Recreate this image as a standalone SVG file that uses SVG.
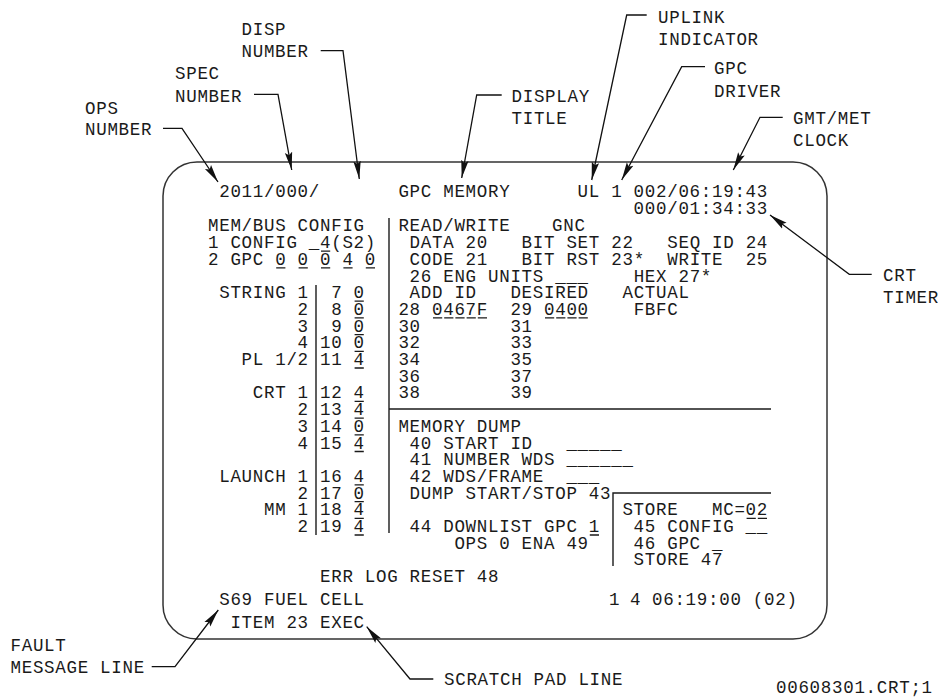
<svg xmlns="http://www.w3.org/2000/svg" width="938" height="698" viewBox="0 0 938 698" xml:space="preserve">
<style>
.t{font-family:"Liberation Mono","DejaVu Sans Mono",monospace;font-size:17.5px;letter-spacing:0.7px;fill:#1a1a1a;white-space:pre}
.u{stroke:#1a1a1a;stroke-width:1.3;fill:none}
.bar{stroke:#1a1a1a;stroke-width:1.4;fill:none}
.ld{fill:none;stroke:#111;stroke-width:1.3;marker-end:url(#ah)}
</style>
<defs>
<marker id="ah" markerUnits="userSpaceOnUse" markerWidth="20" markerHeight="9" refX="18" refY="4.5" orient="auto"><path d="M0,0.8 L18,4.5 L0,8.2 L3,4.5 Z" fill="#111"/></marker>
</defs>
<rect width="938" height="698" fill="#fff"/>
<g id="screen">
<rect x="163" y="162" width="664" height="477" rx="34" ry="34" fill="none" stroke="#333" stroke-width="1.5"/>
<line class="bar" x1="389" y1="218" x2="389" y2="533"/>
<line class="bar" x1="316" y1="285" x2="316" y2="535"/>
<line class="bar" x1="389" y1="409" x2="771" y2="409"/>
<polyline class="bar" points="613,566 613,493 771,493"/>
<text class="t" x="219.2" y="197">2011/000/</text>
<text class="t" x="398.4" y="197">GPC MEMORY</text>
<text class="t" x="577.6" y="197">UL 1 002/06:19:43</text>
<text class="t" x="633.6" y="213.5">000/01:34:33</text>
<text class="t" x="208" y="231.4">MEM/BUS CONFIG</text>
<text class="t" x="208" y="248.1">1 CONFIG _4(S2)</text>
<text class="t" x="208" y="264.8">2 GPC 0 0 0 4 0</text>
<text class="t" x="219.2" y="298.2">STRING 1</text>
<text class="t" x="297.6" y="314.9">2</text>
<text class="t" x="297.6" y="331.6">3</text>
<text class="t" x="297.6" y="348.3">4</text>
<text class="t" x="241.6" y="365">PL 1/2</text>
<text class="t" x="252.8" y="398.4">CRT 1</text>
<text class="t" x="297.6" y="415.1">2</text>
<text class="t" x="297.6" y="431.8">3</text>
<text class="t" x="297.6" y="448.5">4</text>
<text class="t" x="219.2" y="481.9">LAUNCH 1</text>
<text class="t" x="297.6" y="498.6">2</text>
<text class="t" x="264" y="515.3">MM 1</text>
<text class="t" x="297.6" y="532">2</text>
<text class="t" x="320" y="298.2"> 7 0</text>
<text class="t" x="320" y="314.9"> 8 0</text>
<text class="t" x="320" y="331.6"> 9 0</text>
<text class="t" x="320" y="348.3">10 0</text>
<text class="t" x="320" y="365">11 4</text>
<text class="t" x="320" y="398.4">12 4</text>
<text class="t" x="320" y="415.1">13 4</text>
<text class="t" x="320" y="431.8">14 0</text>
<text class="t" x="320" y="448.5">15 4</text>
<text class="t" x="320" y="481.9">16 4</text>
<text class="t" x="320" y="498.6">17 0</text>
<text class="t" x="320" y="515.3">18 4</text>
<text class="t" x="320" y="532">19 4</text>
<text class="t" x="398.4" y="231.4">READ/WRITE</text>
<text class="t" x="552" y="231.4">GNC</text>
<text class="t" x="398.4" y="248.1"> DATA 20   BIT SET 22   SEQ ID 24</text>
<text class="t" x="398.4" y="264.8"> CODE 21   BIT RST 23*  WRITE  25</text>
<text class="t" x="398.4" y="281.5"> 26 ENG UNITS ___    HEX 27*</text>
<text class="t" x="398.4" y="298.2"> ADD ID   DESIRED   ACTUAL</text>
<text class="t" x="398.4" y="314.9">28 0467F  29 0400    FBFC</text>
<text class="t" x="398.4" y="331.6">30        31</text>
<text class="t" x="398.4" y="348.3">32        33</text>
<text class="t" x="398.4" y="365">34        35</text>
<text class="t" x="398.4" y="381.7">36        37</text>
<text class="t" x="398.4" y="398.4">38        39</text>
<text class="t" x="398.4" y="431.8">MEMORY DUMP</text>
<text class="t" x="398.4" y="448.5"> 40 START ID   _____</text>
<text class="t" x="398.4" y="465.2"> 41 NUMBER WDS ______</text>
<text class="t" x="398.4" y="481.9"> 42 WDS/FRAME  ___</text>
<text class="t" x="398.4" y="498.6"> DUMP START/STOP 43</text>
<text class="t" x="398.4" y="532"> 44 DOWNLIST GPC 1</text>
<text class="t" x="454.4" y="548.7">OPS 0 ENA 49</text>
<text class="t" x="622.4" y="515.3">STORE   MC=02</text>
<text class="t" x="622.4" y="532"> 45 CONFIG __</text>
<text class="t" x="622.4" y="548.7"> 46 GPC _</text>
<text class="t" x="622.4" y="565.4"> STORE 47</text>
<text class="t" x="320" y="582.1">ERR LOG RESET 48</text>
<text class="t" x="219.2" y="605">S69 FUEL CELL</text>
<text class="t" x="609" y="605">1</text>
<text class="t" x="630" y="605">4</text>
<text class="t" x="652" y="605">06:19:00 (02)</text>
<text class="t" x="219.2" y="628"> ITEM 23 EXEC</text>
<g id="underlines">
<path class="u" d="M321,251.1H330.2 M276.2,267.8H285.4 M298.6,267.8H307.8 M321,267.8H330.2 M343.4,267.8H352.6 M365.8,267.8H375"/>
<path class="u" d="M354.6,301.2H363.8 M354.6,317.9H363.8 M354.6,334.6H363.8 M354.6,351.3H363.8 M354.6,368H363.8 M354.6,401.4H363.8 M354.6,418.1H363.8 M354.6,434.8H363.8 M354.6,451.5H363.8 M354.6,484.9H363.8 M354.6,501.6H363.8 M354.6,518.3H363.8 M354.6,535H363.8"/>
<path class="u" d="M433,317.9H442.2 M444.2,317.9H453.4 M455.4,317.9H464.6 M466.6,317.9H475.8 M477.8,317.9H487 M545,317.9H554.2 M556.2,317.9H565.4 M567.4,317.9H576.6 M578.6,317.9H587.8"/>
<path class="u" d="M746.6,518.3H755.8 M757.8,518.3H767 M589.8,535H599"/>
</g>
</g>
<g id="connectors">
<polyline class="ld" points="163,128.3 182,128.3 218,182"/>
<polyline class="ld" points="254,94.3 278,94.3 291.7,170"/>
<polyline class="ld" points="320.7,50.7 343,50.7 359.3,179"/>
<polyline class="ld" points="501.7,95 476.7,95 461.7,178"/>
<polyline class="ld" points="646.7,15 626.7,15 591.7,180"/>
<polyline class="ld" points="705,66.7 681.7,66.7 621.7,180"/>
<polyline class="ld" points="782.7,117.3 760,117.3 733.3,170"/>
<polyline class="ld" points="871.7,274.3 849.3,274.3 770,215"/>
<polyline class="ld" points="151.7,666.7 175,666.7 218.3,610"/>
<polyline class="ld" points="433.3,679 410,679 366.7,626.7"/>
</g>
<g id="label-ops"><text class="t" x="85" y="114">OPS</text><text class="t" x="85" y="135">NUMBER</text></g>
<g id="label-spec"><text class="t" x="175" y="79">SPEC</text><text class="t" x="175" y="101.7">NUMBER</text></g>
<g id="label-disp"><text class="t" x="241.5" y="35">DISP</text><text class="t" x="241.5" y="56.7">NUMBER</text></g>
<g id="label-title"><text class="t" x="511.5" y="101.7">DISPLAY</text><text class="t" x="511.5" y="124">TITLE</text></g>
<g id="label-uplink"><text class="t" x="658" y="22.7">UPLINK</text><text class="t" x="658" y="45">INDICATOR</text></g>
<g id="label-gpc"><text class="t" x="714" y="74">GPC</text><text class="t" x="714" y="96.7">DRIVER</text></g>
<g id="label-clock"><text class="t" x="793" y="124">GMT/MET</text><text class="t" x="793" y="146">CLOCK</text></g>
<g id="label-timer"><text class="t" x="883" y="280.7">CRT</text><text class="t" x="883" y="302.7">TIMER</text></g>
<g id="label-fault"><text class="t" x="10.5" y="650.7">FAULT</text><text class="t" x="10.5" y="673.3">MESSAGE LINE</text></g>
<g id="label-scratch"><text class="t" x="444" y="685">SCRATCH PAD LINE</text></g>
<g id="label-file"><text class="t" x="776" y="693">00608301.CRT;1</text></g>
</svg>
